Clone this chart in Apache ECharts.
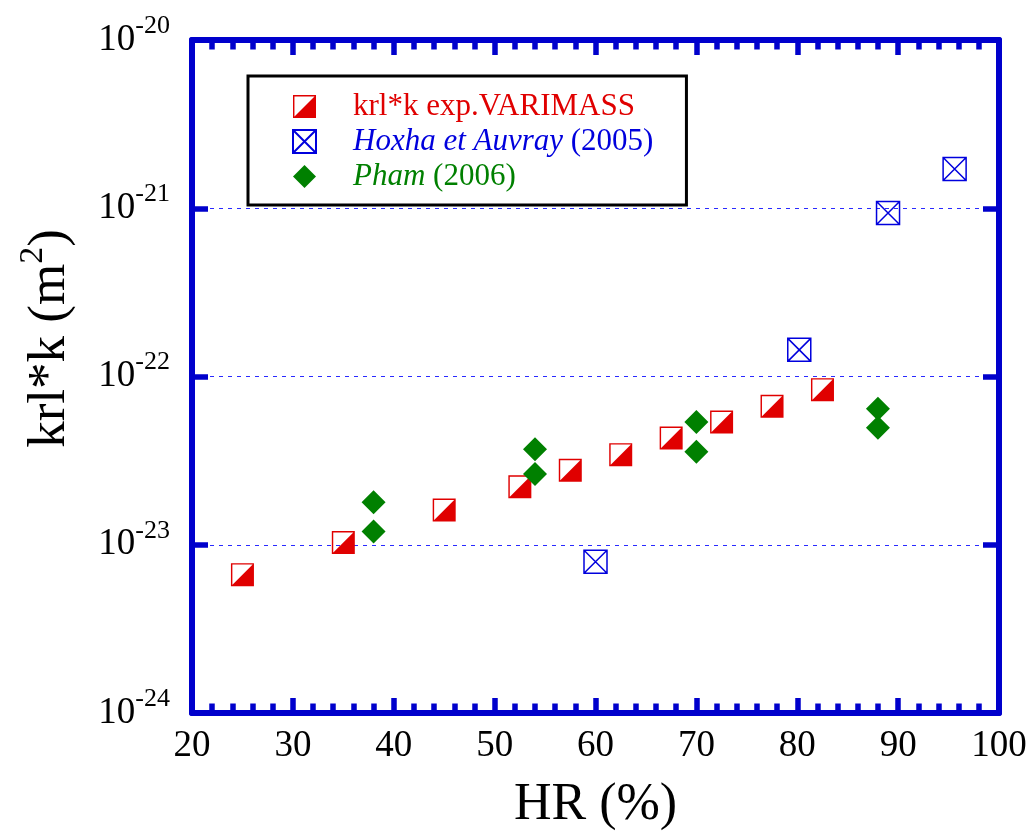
<!DOCTYPE html>
<html><head><meta charset="utf-8">
<script src="https://cdn.jsdelivr.net/npm/echarts@6/dist/echarts.min.js"></script>
<style>html,body{margin:0;padding:0;background:#fff}#c{width:1031px;height:832px}#err{position:absolute;left:0;top:0;color:#f00;font:12px monospace}</style>
</head><body><div id="c"></div><div id="err"></div>
<script>
// ---- data (k in m^2) ----
const seriesNames = ['VARIMASS', 'Hoxha', 'Pham'];
const varimassHR = [25, 35, 45, 52.5, 57.5, 62.5, 67.5, 72.5, 77.5, 82.5];
const varimassK = [6.64e-24, 1.03e-23, 1.61e-23, 2.21e-23, 2.77e-23, 3.43e-23, 4.31e-23, 5.36e-23, 6.65e-23, 8.35e-23];
const hoxhaHR = [60, 80.2, 89, 95.6];
const hoxhaK = [7.93e-24, 1.44e-22, 9.37e-22, 1.71e-21];
const phamHR = [38, 38, 54, 54, 70, 70, 88, 88];
const phamK = [1.79e-23, 1.20e-23, 3.69e-23, 2.63e-23, 5.36e-23, 3.57e-23, 6.43e-23, 4.96e-23];
const xTickLabels = ['20', '30', '40', '50', '60', '70', '80', '90', '100'];
const yTickExponents = ['-24', '-23', '-22', '-21', '-20'];

// the log axis works in units of 1e-24 m^2 (avoids float rounding of tiny numbers)
const UNIT_EXP = 24;
const toUnit = (k) => k * Math.pow(10, UNIT_EXP);

const FONT = "'Liberation Serif','Times New Roman',serif";
const RED = '#e00000', BLUE = '#0000dd', GREEN = '#008000', FRAME = '#0000cc';

const halfSquare = 'path://M0,0 L24,0 L24,24 L0,24 Z M1.5,1.5 L1.5,22.5 L22.5,22.5 L22.5,1.5 Z M24,0 L24,24 L0,24 Z';
const crossSquare = 'path://M0,0 L24,0 L24,24 L0,24 Z M0,0 L24,24 M24,0 L0,24';

const pairs = (xs, ys) => xs.map((x, i) => [x, toUnit(ys[i])]);

const xAxisCommon = {
  type: 'value', min: 20, max: 100, interval: 10,
  axisLine: { show: true, lineStyle: { color: FRAME, width: 6 } },
  axisTick: { show: true, inside: true, length: 15, lineStyle: { color: FRAME, width: 5.5 } },
  minorTick: { show: true, splitNumber: 5, length: 9.5, lineStyle: { color: FRAME, width: 5.5 } },
  splitLine: { show: false }
};
const yAxisCommon = {
  type: 'log', logBase: 10, min: 1, max: 10000, splitNumber: 4,
  axisLine: { show: true, lineStyle: { color: FRAME, width: 6 } },
  axisTick: { show: true, inside: true, length: 16, lineStyle: { color: FRAME, width: 5.5 } },
  minorTick: { show: false }
};

try {
const chart = echarts.init(document.getElementById('c'), null, { renderer: 'canvas' });
chart.setOption({
  animation: false,
  backgroundColor: '#fff',
  grid: { left: 192, right: 32, top: 40, bottom: 119, containLabel: false, outerBoundsMode: 'none' },
  legend: {
    orient: 'vertical', left: 248, top: 76,
    backgroundColor: '#fff', borderColor: '#000', borderWidth: 3,
    padding: [15, 33, 13, 44],
    itemWidth: 23, itemHeight: 23, itemGap: 4,
    selectedMode: false,
    textStyle: {
      fontFamily: FONT, fontSize: 31, padding: [0, 0, 0, 32],
      rich: {
        r: { color: RED, fontFamily: FONT, fontSize: 31 },
        bi: { color: BLUE, fontFamily: FONT, fontSize: 31, fontStyle: 'italic' },
        b: { color: BLUE, fontFamily: FONT, fontSize: 31 },
        gi: { color: GREEN, fontFamily: FONT, fontSize: 31, fontStyle: 'italic' },
        g: { color: GREEN, fontFamily: FONT, fontSize: 31 }
      }
    },
    data: seriesNames,
    formatter: function (name) {
      if (name === 'VARIMASS') return '{r|krl*k exp.VARIMASS}';
      if (name === 'Hoxha') return '{bi|Hoxha et Auvray}{b| (2005)}';
      return '{gi|Pham}{g| (2006)}';
    }
  },
  xAxis: [
    Object.assign({}, xAxisCommon, {
      position: 'bottom',
      axisLabel: { show: true, margin: 15, color: '#000', fontFamily: FONT, fontSize: 37,
        formatter: function (v) { return xTickLabels[Math.round((v - 20) / 10)]; } },
      name: 'HR (%)', nameLocation: 'middle', nameGap: 66,
      nameTextStyle: { color: '#000', fontFamily: FONT, fontSize: 52 }
    }),
    Object.assign({}, xAxisCommon, { position: 'top', axisLabel: { show: false } })
  ],
  yAxis: [
    Object.assign({}, yAxisCommon, {
      position: 'left',
      axisLabel: {
        show: true, margin: 22, color: '#000', showMinLabel: true, showMaxLabel: true,
        formatter: function (v) {
          const e = Math.round(Math.log10(v));
          return '{b|10}{s|' + yTickExponents[e] + '}';
        },
        rich: {
          b: { fontFamily: FONT, fontSize: 37, color: '#000' },
          s: { fontFamily: FONT, fontSize: 26, color: '#000', padding: [0, 0, 28, 0] }
        }
      },
      splitLine: { show: true, lineStyle: { color: '#2a2aff', width: 1, type: [4, 5] } },
      name: '{a|krl*k (m}{s|2}{a|)}', nameLocation: 'middle', nameGap: 108, nameRotate: 90,
      nameTextStyle: {
        padding: [0, 0, 0, 76],
        rich: {
          a: { fontFamily: FONT, fontSize: 53, color: '#000' },
          s: { fontFamily: FONT, fontSize: 34, color: '#000', padding: [0, 0, 34, 0] }
        }
      }
    }),
    Object.assign({}, yAxisCommon, { position: 'right', axisLabel: { show: false }, splitLine: { show: false } })
  ],
  series: [
    {
      name: 'VARIMASS', type: 'scatter', xAxisIndex: 0, yAxisIndex: 0,
      symbol: halfSquare, symbolSize: 23,
      itemStyle: { color: RED, opacity: 1 },
      data: pairs(varimassHR, varimassK), z: 3
    },
    {
      name: 'Hoxha', type: 'scatter', xAxisIndex: 0, yAxisIndex: 0,
      symbol: crossSquare, symbolSize: 23,
      itemStyle: { color: 'rgba(0,0,0,0)', borderColor: BLUE, borderWidth: 1.5, opacity: 1 },
      data: pairs(hoxhaHR, hoxhaK), z: 3
    },
    {
      name: 'Pham', type: 'scatter', xAxisIndex: 0, yAxisIndex: 0,
      symbol: 'diamond', symbolSize: 24,
      itemStyle: { color: GREEN, opacity: 1 },
      data: pairs(phamHR, phamK), z: 4
    }
  ]
});
} catch (e) { document.getElementById('err').textContent = String(e && e.stack || e); }
</script>
</body></html>
